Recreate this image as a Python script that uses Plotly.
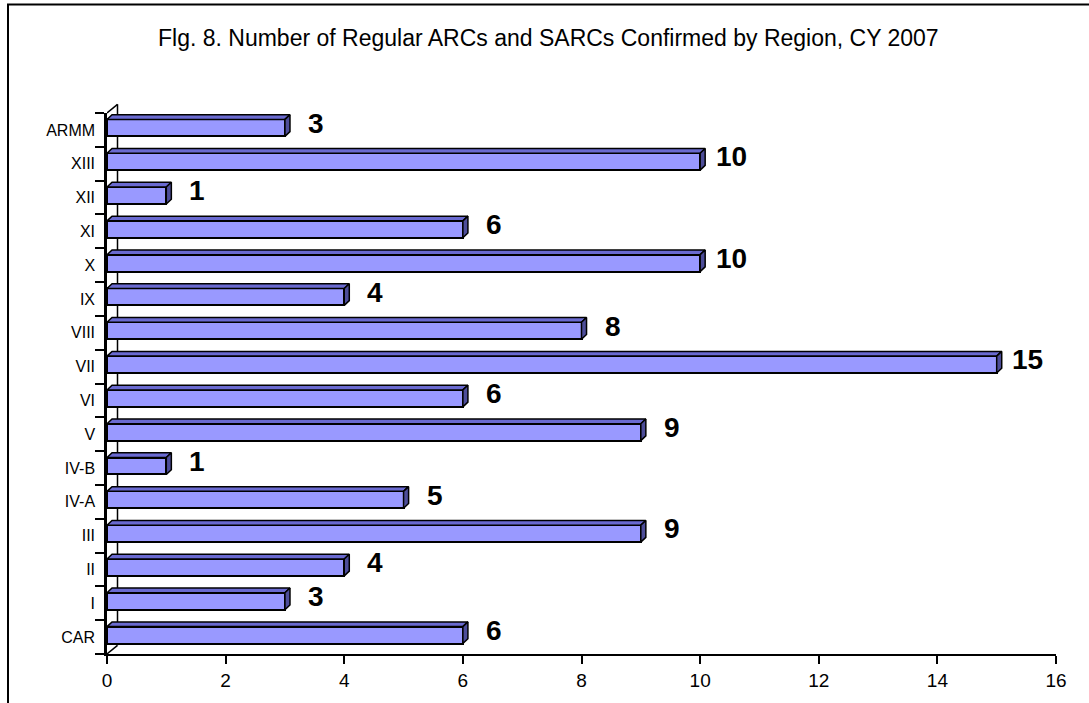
import plotly.graph_objects as go

# ---- data ----
regions = ["CAR", "I", "II", "III", "IV-A", "IV-B", "V", "VI", "VII",
           "VIII", "IX", "X", "XI", "XII", "XIII", "ARMM"]
counts = [6, 3, 4, 9, 5, 1, 9, 6, 15, 8, 4, 10, 6, 1, 10, 3]
x_ticks = [0, 2, 4, 6, 8, 10, 12, 14, 16]
title_text = "Flg. 8. Number of Regular ARCs and SARCs Confirmed by Region, CY 2007"

# ---- geometry / style ----
W, H = 1089, 703
ML, MR, MT, MB = 107, 33, 113, 46
PW, PH = W - ML - MR, H - MT - MB

pos = list(range(len(regions)))
BAR_W = 0.5
SHIFT = 0.06      # front face shifted slightly up
DX = 0.085        # 3D depth in x units (~5px)
DY = 0.14         # 3D depth in category units (~5px)

FRONT = "#9999FF"
TOP = "#6A6AD0"
SIDE = "#4D4D99"

fig = go.Figure()

# front faces
fig.add_trace(go.Bar(
    x=counts, y=[p + SHIFT for p in pos], orientation="h", width=BAR_W,
    marker=dict(color=FRONT, line=dict(color="black", width=2)),
    hoverinfo="skip", showlegend=False,
))

# top and side faces computed from data
tx, ty, sx, sy = [], [], [], []
for p, v in zip(pos, counts):
    top = p + SHIFT + BAR_W / 2
    bot = p + SHIFT - BAR_W / 2
    tx += [0, v, v + DX, DX, 0, None]
    ty += [top, top, top + DY, top + DY, top, None]
    sx += [v, v, v + DX, v + DX, v, None]
    sy += [bot, top, top + DY, bot + DY, bot, None]

fig.add_trace(go.Scatter(x=tx, y=ty, mode="lines", fill="toself", fillcolor=TOP,
                         line=dict(color="black", width=1.5), hoverinfo="skip",
                         showlegend=False))
fig.add_trace(go.Scatter(x=sx, y=sy, mode="lines", fill="toself", fillcolor=SIDE,
                         line=dict(color="black", width=1.5), hoverinfo="skip",
                         showlegend=False))

# data labels
for p, v in zip(pos, counts):
    fig.add_annotation(x=v, y=p + 0.2, text=str(v), showarrow=False,
                       xanchor="center", yanchor="middle", xshift=31,
                       font=dict(family="Arial, Liberation Sans", size=28,
                                 color="black", weight="bold"))

# title
fig.add_annotation(xref="paper", yref="paper", x=(548.5 - ML) / PW,
                   y=(H - MB - 37.5) / PH, text=title_text, showarrow=False,
                   xanchor="center", yanchor="middle",
                   font=dict(family="Arial, Liberation Sans", size=23, color="black"))

# 3D back wall edge
WX, WY = 0.177, 0.016
wall = dict(color="black", width=1.5)
fig.add_shape(type="line", xref="x", yref="y domain", x0=0, y0=0, x1=WX, y1=WY,
              line=wall, layer="below")
fig.add_shape(type="line", xref="x", yref="y domain", x0=WX, y0=WY, x1=WX, y1=1 + WY,
              line=wall, layer="below")
fig.add_shape(type="line", xref="x", yref="y domain", x0=0, y0=1, x1=WX, y1=1 + WY,
              line=wall, layer="below")

# outer frame
fig.add_shape(type="rect", xref="paper", yref="paper",
              x0=(8 - ML) / PW, x1=1.2, y0=-0.3, y1=(H - MB - 4) / PH,
              line=dict(color="black", width=2), fillcolor="rgba(0,0,0,0)")

fig.update_layout(
    width=W, height=H,
    margin=dict(l=ML, r=MR, t=MT, b=MB, pad=0),
    paper_bgcolor="white", plot_bgcolor="white",
    showlegend=False, bargap=0,
    font=dict(family="Arial, Liberation Sans", color="black"),
    xaxis=dict(range=[0, 16], tickmode="array", tickvals=x_ticks,
               ticks="outside", ticklen=8, tickwidth=2, tickcolor="black",
               showline=True, linecolor="black", linewidth=2,
               showgrid=False, zeroline=False,
               tickfont=dict(size=19, color="black")),
    yaxis=dict(range=[-0.5, 15.5], tickmode="array", tickvals=pos, ticktext=regions,
               ticks="", showline=True, linecolor="black", linewidth=2.5,
               showgrid=False, zeroline=False, ticklabelstandoff=6,
               tickfont=dict(size=16, color="black"),
               minor=dict(tickmode="array", tickvals=[i - 0.5 for i in range(17)],
                          ticks="outside", ticklen=9, tickwidth=2,
                          tickcolor="black", showgrid=False)),
)

fig.write_html("out.html")
